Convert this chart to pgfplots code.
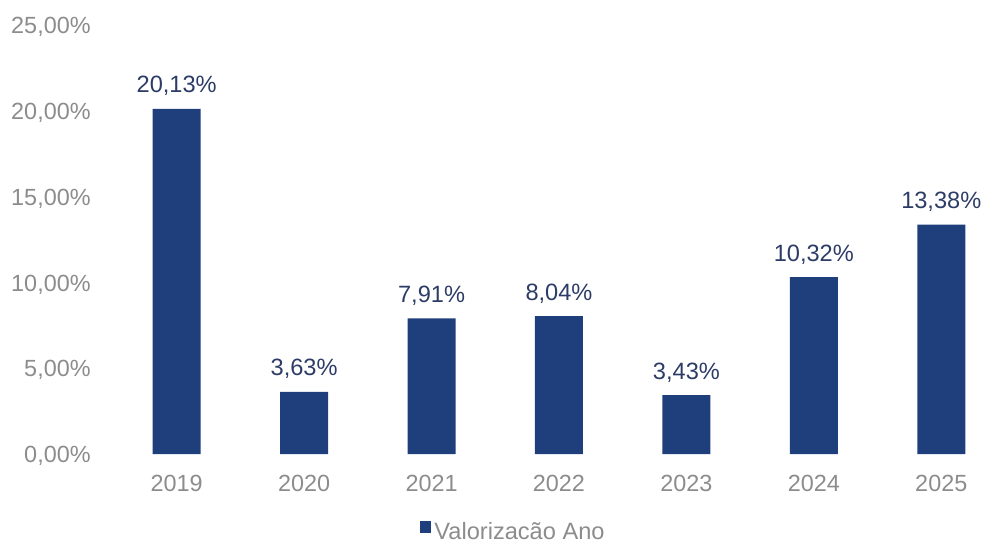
\documentclass[border=0pt]{standalone}
\usepackage{pgfplots}
\pgfplotsset{compat=1.18}
\usepackage{fontspec}
\setmainfont{Liberation Sans}
\definecolor{barblue}{HTML}{1F3E7C}
\definecolor{lblblue}{HTML}{2C3C66}
\definecolor{tickgray}{HTML}{8C8C8C}
\begin{document}
\begin{tikzpicture}
\begin{axis}[
  at={(0,0)}, anchor=south west,
  scale only axis, width=446pt, height=214.25pt,
  xmin=-0.5, xmax=6.5, ymin=0, ymax=25,
  ybar, bar width=24pt,
  xtick={0,1,2,3,4,5,6},
  xticklabels={2019,2020,2021,2022,2023,2024,2025},
  ytick={0,5,10,15,20,25},
  yticklabels={{0,00\%},{5,00\%},{10,00\%},{15,00\%},{20,00\%},{25,00\%}},
  axis line style={draw=none},
  tick style={draw=none}, major tick length=0pt,
  tick label style={font=\fontsize{11.7}{14}\selectfont, text=tickgray},
  yticklabel style={anchor=base east, inner sep=0pt, yshift=-4.2pt},
  yticklabel shift=11pt,
  xticklabel style={anchor=north, inner sep=0pt},
  xticklabel shift=10.5pt,
  nodes near coords, point meta=explicit symbolic,
  nodes near coords style={font=\fontsize{11.8}{14}\selectfont, text=lblblue, anchor=base, inner sep=0pt, yshift=8pt},
  legend style={at={(0.344,0)}, anchor=west, yshift=-39pt, draw=none, fill=none,
    font=\fontsize{11.8}{14}\selectfont, text=tickgray, inner sep=0pt, nodes={inner sep=1.5pt}},
  legend image code/.code={\fill[barblue] (0pt,-0.3pt) rectangle (5.6pt,5.4pt);},
]
\addplot[fill=barblue, draw=none] coordinates {
  (0,20.13) [20,13\%]
  (1,3.63) [3,63\%]
  (2,7.91) [7,91\%]
  (3,8.04) [8,04\%]
  (4,3.43) [3,43\%]
  (5,10.32) [10,32\%]
  (6,13.38) [13,38\%]
};
\addlegendentry{Valorizacão Ano}
\end{axis}
\pgfresetboundingbox
\path[use as bounding box] (-56.5pt,-44.5pt) rectangle (434.5pt,227pt);
\end{tikzpicture}
\end{document}
